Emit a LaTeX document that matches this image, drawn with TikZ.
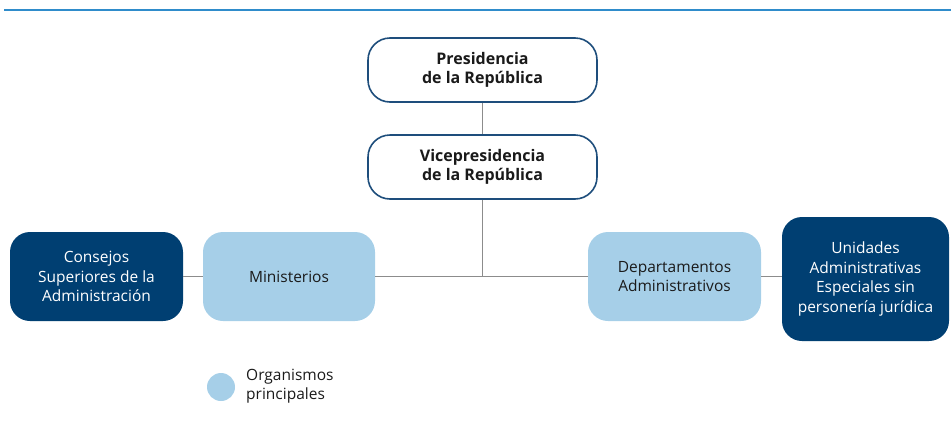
\documentclass[tikz,border=0pt]{standalone}
\usepackage{fontspec}
\setmainfont{Open Sans}
\definecolor{navy}{HTML}{003F72}
\definecolor{lightb}{HTML}{A6CFE8}
\definecolor{edgeb}{HTML}{1E4E7C}
\definecolor{topb}{HTML}{2F8CCB}
\definecolor{linec}{HTML}{8C8C8C}
\definecolor{txt}{HTML}{1A1A1A}
\tikzset{
  whitebox/.style={draw=edgeb, line width=1.6pt, fill=white, rounded corners=22pt, minimum width=229pt, minimum height=64pt, align=center, font=\fontsize{16}{18.5}\selectfont\bfseries, text=txt, inner sep=0pt},
  navybox/.style={fill=navy, rounded corners=20pt, align=center, font=\fontsize{15.5}{19.5}\selectfont, text=white, inner sep=0pt},
  lightbox/.style={fill=lightb, rounded corners=20pt, align=center, font=\fontsize{15.5}{19.5}\selectfont, text=txt, inner sep=0pt},
  conn/.style={draw=linec, line width=1.2pt},
}
\begin{document}
\begin{tikzpicture}[x=1pt,y=-1pt]
\useasboundingbox (0,0) rectangle (951,426);
\coordinate (tl) at (4,9.5);
\coordinate (tr) at (951,9.5);
\draw[topb, line width=2pt] (tl) -- (tr);

\node[whitebox] (pres) at (482.5,70) {Presidencia\\de la República};
\node[whitebox] (vice) at (482.5,167) {Vicepresidencia\\de la República};

\node[navybox, minimum width=173pt, minimum height=89pt] (cons) at (96.5,276.5) {Consejos\\Superiores de la\\Administración};
\node[lightbox, minimum width=172pt, minimum height=89pt] (mini) at (289,276.5) {Ministerios};
\node[lightbox, minimum width=173pt, minimum height=89pt] (dep) at (674.5,276.5) {Departamentos\\Administrativos};
\node[navybox, minimum width=167pt, minimum height=124pt] (uni) at (865.5,279) {Unidades\\Administrativas\\Especiales sin\\personería jurídica};

\coordinate (j) at (vice.south |- mini.east);
\draw[conn] (pres.south) -- (vice.north);
\draw[conn] (vice.south) -- (j);
\draw[conn] (mini.east) -- (dep.west);
\draw[conn] (cons.east) -- (mini.west);
\draw[conn] (dep.east) -- (dep.east -| uni.west);

\node[circle, fill=lightb, minimum size=28pt, inner sep=0pt] (leg) at (221,387) {};
\node[anchor=west, align=left, font=\fontsize{15.5}{19.5}\selectfont, text=txt, inner sep=0pt] (legt) at (246,386) {Organismos\\principales};
\end{tikzpicture}
\end{document}
